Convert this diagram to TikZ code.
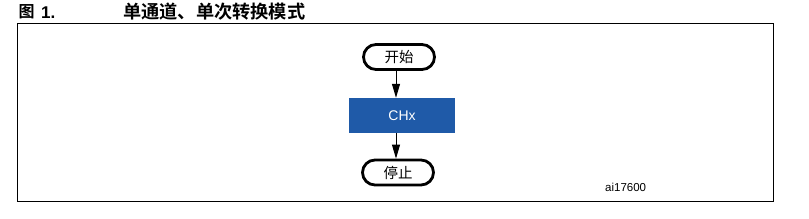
\documentclass[tikz,border=0pt]{standalone}
\usepackage{fontspec}
\setmainfont{Liberation Sans}
\newfontfamily\cjk{Noto Sans CJK SC}
\newfontfamily\cjkbold{Noto Sans CJK SC Bold}
\usetikzlibrary{shapes.misc,arrows.meta,positioning}
\definecolor{chblue}{HTML}{1F5AA8}

\begin{document}
\begin{tikzpicture}[x=1pt, y=-1pt,
    term/.style={draw, line width=2.8pt, rounded rectangle, minimum width=71pt, minimum height=25pt, inner sep=0pt, font=\cjk\fontsize{14.5}{14.5}\selectfont},
    chan/.style={fill=chblue, text=white, minimum width=106pt, minimum height=35pt, inner sep=0pt, font=\fontsize{14}{14}\selectfont},
    flow/.style={-{Triangle[length=14pt, width=8pt]}, line width=1pt}
]
    \useasboundingbox (0,0) rectangle (809,218);
    % title
    \node[anchor=west, inner sep=0pt, font=\cjkbold\fontsize{16}{16}\selectfont] (fig) at (18.5,12) {图};
    \node[anchor=west, inner sep=0pt, font=\bfseries\fontsize{17}{17}\selectfont] (fignum) at (41,12.5) {1.};
    \node[anchor=west, inner sep=0pt, font=\cjkbold\fontsize{18.2}{18.2}\selectfont] (title) at (123,12) {单通道、单次转换模式};
    \draw[line width=1pt] (17,23) rectangle (773,201.5);

    \node[term] (start) at (399,57) {开始};
    \node[chan] (chx) at (402,115.5) {CHx};
    \node[term] (stop) at (398,172.5) {停止};
    \node[anchor=west, inner sep=0pt, font=\fontsize{11.5}{11.5}\selectfont] (ref) at (605,187.5) {ai17600};

    \draw[flow] (396,0 |- start.south) -- (396,0 |- chx.north);
    \draw[flow] (396,0 |- chx.south) -- (396,0 |- stop.north);
\end{tikzpicture}
\end{document}
